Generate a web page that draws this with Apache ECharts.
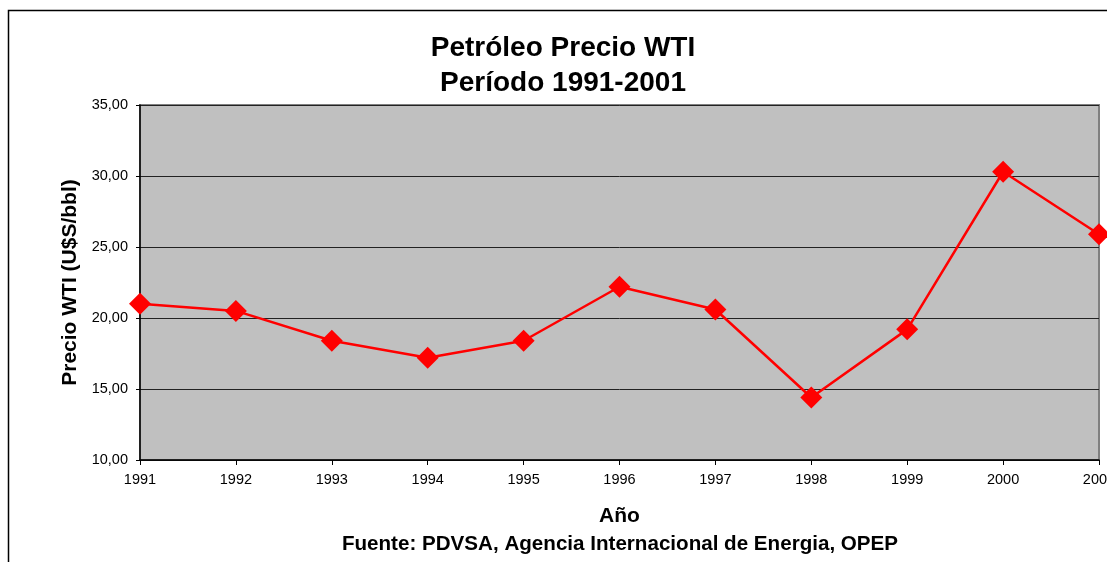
<!DOCTYPE html>
<html>
<head>
<meta charset="utf-8">
<script src="https://cdn.jsdelivr.net/npm/echarts@6/dist/echarts.min.js"></script>
<style>
  html, body { margin: 0; padding: 0; background: #fff; }
  #chart { width: 1107px; height: 562px; }
</style>
</head>
<body>
<div id="chart"></div>
<script>
// data
const years = ['1991', '1992', '1993', '1994', '1995', '1996', '1997', '1998', '1999', '2000', '2001'];
const wtiPrice = [21.0, 20.5, 18.4, 17.2, 18.4, 22.2, 20.6, 14.4, 19.2, 30.3, 25.9];

const font = '"Liberation Sans", Arial, sans-serif';

const chart = echarts.init(document.getElementById('chart'), null, { renderer: 'canvas' });

const option = {
    animation: false,
    backgroundColor: '#fff',
    textStyle: { fontFamily: font },
    title: {
        text: 'Petróleo Precio WTI\nPeríodo 1991-2001',
        left: 558,
        textAlign: 'center',
        top: 25.5,
        textStyle: { fontSize: 28, fontWeight: 'bold', color: '#000', lineHeight: 35, fontFamily: font },
    },
    graphic: [
        {
            type: 'rect',
            shape: { x: 8.5, y: 10.5, width: 1120, height: 600 },
            style: { fill: 'none', stroke: '#000', lineWidth: 1.5 },
            silent: true,
        },
        {
            type: 'text',
            x: 620,
            y: 544,
            style: {
                text: 'Fuente: PDVSA, Agencia Internacional de Energia, OPEP',
                font: 'bold 20.6px ' + font,
                fill: '#000',
                align: 'center',
                verticalAlign: 'middle',
            },
        },
    ],
    grid: {
        left: 140,
        top: 105,
        width: 959,
        height: 355,
        outerBoundsMode: 'none',
        containLabel: false,
        show: true,
        backgroundColor: '#C0C0C0',
        borderColor: '#808080',
        borderWidth: 2,
    },
    xAxis: {
        type: 'category',
        data: years,
        boundaryGap: false,
        name: 'Año',
        nameLocation: 'middle',
        nameGap: 46,
        nameTextStyle: { fontSize: 21, fontWeight: 'bold', color: '#000', fontFamily: font },
        axisLine: { lineStyle: { color: '#000', width: 1.5 } },
        axisTick: { show: true, length: 5, alignWithLabel: true, lineStyle: { color: '#000' } },
        axisLabel: { color: '#000', fontSize: 14.5, margin: 12, fontFamily: font },
        splitLine: { show: false },
    },
    yAxis: {
        type: 'value',
        min: 10,
        max: 35,
        interval: 5,
        name: 'Precio WTI (U$S/bbl)',
        nameLocation: 'middle',
        nameGap: 58,
        nameTextStyle: { fontSize: 21, fontWeight: 'bold', color: '#000', fontFamily: font },
        axisLine: { show: true, lineStyle: { color: '#000', width: 1.5 } },
        axisTick: { show: true, length: 4, lineStyle: { color: '#000' } },
        axisLabel: {
            color: '#000',
            fontSize: 14.5,
            margin: 12,
            fontFamily: font,
            formatter: (v) => v.toFixed(2).replace('.', ','),
        },
        splitLine: { show: true, lineStyle: { color: '#222', width: 1 } },
    },
    series: [
        {
            type: 'line',
            data: wtiPrice,
            symbol: 'diamond',
            symbolSize: 22,
            showAllSymbol: true,
            lineStyle: { color: '#FF0000', width: 2.5 },
            itemStyle: { color: '#FF0000' },
        },
    ],
};

chart.setOption(option);
</script>
</body>
</html>
